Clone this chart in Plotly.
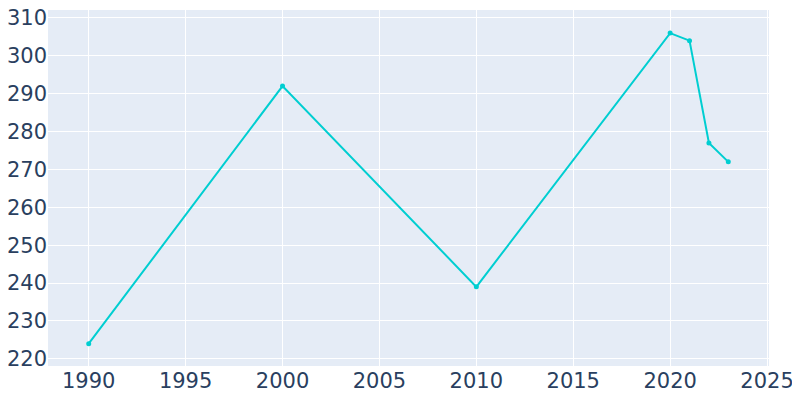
import plotly.graph_objects as go

years = [1990, 2000, 2010, 2020, 2021, 2022, 2023]
population = [224, 292, 239, 306, 304, 277, 272]

fig = go.Figure()
fig.add_trace(go.Scatter(
    x=years,
    y=population,
    mode="lines+markers",
    line=dict(color="#00CED1", width=2),
    marker=dict(size=5, color="#00CED1"),
    hoverinfo="x+y",
))
fig.update_layout(
    template="plotly",
    width=800,
    height=400,
    margin=dict(l=40, r=39, t=2, b=42),
    showlegend=False,
    font=dict(family="DejaVu Sans", size=21, color="#2a3f5f"),
    xaxis=dict(range=[1987.9, 2025.1], dtick=5, tick0=1990,
               ticklabeloverflow="allow", automargin=False),
    yaxis=dict(range=[218.1, 312.1], dtick=10,
               ticklabeloverflow="allow", automargin=False),
)
fig.write_html("out.html")
